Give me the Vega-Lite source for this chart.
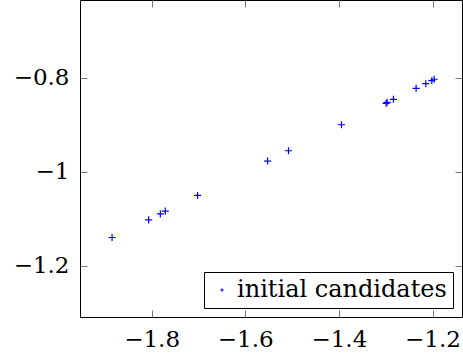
{
  "$schema": "https://vega.github.io/schema/vega-lite/v6.json",
  "width": 382,
  "height": 317,
  "autosize": {"type": "none"},
  "padding": {"left": 80, "top": 0, "right": 1, "bottom": 36},
  "config": {
    "font": "DejaVu Serif",
    "view": {"stroke": "#000", "strokeWidth": 1},
    "axis": {
      "domain": false,
      "grid": false,
      "tickColor": "#777",
      "tickWidth": 1,
      "tickSize": -7,
      "labelFont": "DejaVu Serif",
      "labelFontSize": 23,
      "labelColor": "#000",
      "title": null
    }
  },
  "data": {
    "values": [
      {"x": -1.8845, "y": -1.1396, "series": "initial candidates"},
      {"x": -1.8064, "y": -1.1021, "series": "initial candidates"},
      {"x": -1.7814, "y": -1.0894, "series": "initial candidates"},
      {"x": -1.7708, "y": -1.0836, "series": "initial candidates"},
      {"x": -1.7018, "y": -1.0502, "series": "initial candidates"},
      {"x": -1.5524, "y": -0.9772, "series": "initial candidates"},
      {"x": -1.5076, "y": -0.9553, "series": "initial candidates"},
      {"x": -1.3944, "y": -0.9, "series": "initial candidates"},
      {"x": -1.299, "y": -0.8545, "series": "initial candidates"},
      {"x": -1.2969, "y": -0.8523, "series": "initial candidates"},
      {"x": -1.2835, "y": -0.846, "series": "initial candidates"},
      {"x": -1.235, "y": -0.8226, "series": "initial candidates"},
      {"x": -1.2143, "y": -0.8128, "series": "initial candidates"},
      {"x": -1.2015, "y": -0.8064, "series": "initial candidates"},
      {"x": -1.1966, "y": -0.8034, "series": "initial candidates"}
    ]
  },
  "layer": [
    {
      "mark": {"type": "point", "shape": "M-1,0H1M0,-1V1", "filled": false, "strokeWidth": 1.2, "size": 50, "opacity": 1},
      "encoding": {
        "x": {"field": "x", "type": "quantitative",
          "scale": {"domain": [-1.953, -1.137], "nice": false, "zero": false},
          "axis": {"orient": "bottom", "values": [-1.8, -1.6, -1.4, -1.2], "format": "~g", "labelPadding": 18}},
        "y": {"field": "y", "type": "quantitative",
          "scale": {"domain": [-1.3085, -0.635], "nice": false, "zero": false},
          "axis": {"orient": "left", "values": [-1.2, -1, -0.8], "format": "~g", "labelPadding": 18}},
        "color": {"field": "series", "type": "nominal",
          "scale": {"range": ["#0000ff"]},
          "legend": {
            "title": null,
            "orient": "bottom-right",
            "offset": 9,
            "strokeColor": "#000",
            "fillColor": "#fff",
            "padding": 6,
            "cornerRadius": 0,
            "labelFont": "DejaVu Serif",
            "labelFontSize": 24,
            "labelColor": "#000",
            "labelLimit": 400,
            "labelOffset": 3,
            "columnPadding": 0,
            "symbolType": "M-1,0H1M0,-1V1",
            "symbolSize": 12,
            "symbolStrokeWidth": 1
          }}
      }
    },
    {
      "mark": {"type": "point", "opacity": 0},
      "encoding": {
        "x": {"field": "x", "type": "quantitative",
          "scale": {"domain": [-1.953, -1.137], "nice": false, "zero": false},
          "axis": {"orient": "top", "values": [-1.8, -1.6, -1.4, -1.2], "labels": false}},
        "y": {"field": "y", "type": "quantitative",
          "scale": {"domain": [-1.3085, -0.635], "nice": false, "zero": false},
          "axis": {"orient": "right", "values": [-1.2, -1, -0.8], "labels": false}}
      }
    }
  ],
  "resolve": {"axis": {"x": "independent", "y": "independent"}}
}
